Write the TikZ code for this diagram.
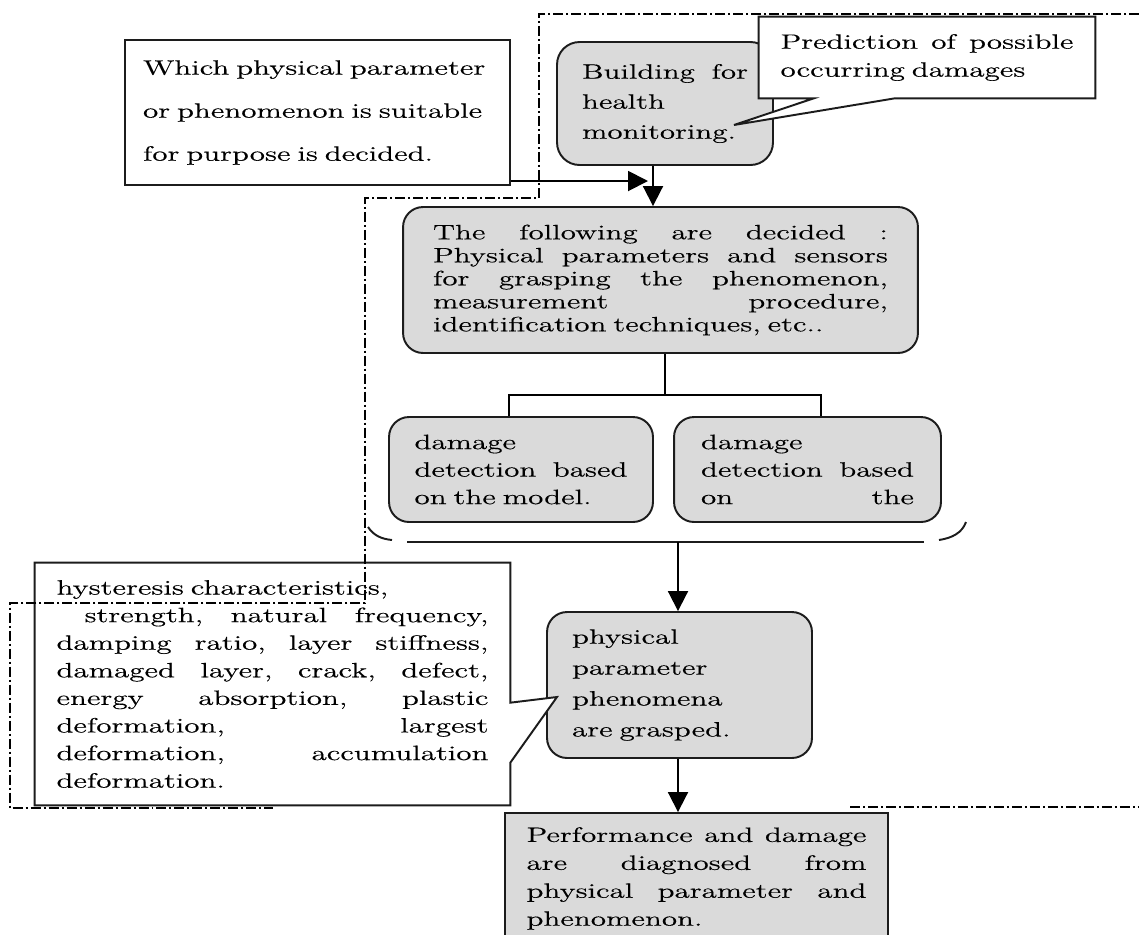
\documentclass[tikz,border=0pt]{standalone}
\usepackage{fontspec}
\newfontfamily\dfont{Latin Modern Roman}[FakeStretch=1.5,FakeBold=0.4]
\usetikzlibrary{arrows.meta,calc}
\definecolor{boxgray}{RGB}{218,218,218}
\definecolor{edge}{RGB}{28,28,28}
% one justified line of the given width; words are separated by \hfill
\newcommand\jl[2]{\makebox[#1][s]{#2}}

\begin{document}
\begin{tikzpicture}[x=0.02cm,y=-0.02cm,
  fnt/.style={font=\dfont\fontsize{11.8pt}{#1}\selectfont},
  plainbox/.style={draw=edge, line width=1.1pt, fill=white, inner sep=0pt, align=left},
  openbox/.style={fill=white, inner sep=0pt, align=left},
  roundbox/.style={draw=edge, line width=1.1pt, fill=boxgray, rounded corners=0.4cm, inner sep=0pt, align=left},
  squarebox/.style={draw=edge, line width=1.1pt, fill=boxgray, inner sep=0pt, align=left},
  outline/.style={draw=edge, line width=1.1pt},
  link/.style={draw=black, line width=1.1pt},
  arr/.style={link, -{Triangle[length=0.4cm,width=0.4cm]}},
  brk/.style={draw=edge, line width=1.1pt},
  frame/.style={draw=black, line width=0.85pt, dash pattern=on 0.2cm off 0.06cm on 0.04cm off 0.06cm},
]
\useasboundingbox (0,0) rectangle (1139,934);
\clip (0,0) rectangle (1139,934);
\fill[white] (0,0) rectangle (1139,934);

% question box, top left
\node[plainbox, fnt=24.5pt, text width=6.98cm, minimum width=7.7cm, minimum height=2.9cm]
  (which) at (317.5,112.5) {Which physical parameter\\or phenomenon is suitable\\for purpose is decided.};

% building
\node[roundbox, rounded corners=0.45cm, fnt=17.1pt, text width=3.32cm, minimum width=4.32cm, minimum height=2.46cm]
  (bld) at (665,103.5) {\jl{3.32cm}{Building\hfill for}\\health\\monitoring.};

% callout on the building
\node[openbox, fnt=15.9pt, text width=5.86cm, minimum width=6.72cm, minimum height=1.62cm]
  (pred) at (927,57.5) {\jl{5.86cm}{Prediction\hfill of\hfill possible}\\occurring damages};
\coordinate (pa) at ($(pred.south west)+(55,0)$);
\coordinate (pb) at ($(pred.south west)+(136,0)$);
\coordinate (ptip) at (734,125);
\fill[white] ($(pa)+(1,-1)$) -- (ptip) -- ($(pb)+(-1,-1)$) -- cycle;
\draw[outline] (pb) -- (pred.south east) -- (pred.north east) -- (pred.north west)
  -- (pred.south west) -- (pa) -- (ptip) -- (pb);

% decisions
\node[roundbox, fnt=13.1pt, text width=9.1cm, minimum width=10.3cm, minimum height=2.92cm]
  (mid) at (660.5,280) {\jl{9.1cm}{The\hfill following\hfill are\hfill decided\hfill :}\\
  \jl{9.1cm}{Physical\hfill parameters\hfill and\hfill sensors}\\
  \jl{9.1cm}{for\hfill grasping\hfill the\hfill phenomenon,}\\
  \jl{9.1cm}{measurement\hfill procedure,}\\
  identification techniques, etc..};

% two detection methods
\node[roundbox, fnt=15.65pt, text width=4.26cm, minimum width=5.28cm, minimum height=2.1cm]
  (lbox) at (521,469.5) {damage\\\jl{4.26cm}{detection\hfill based}\\on the model.};
\node[roundbox, fnt=15.65pt, text width=4.26cm, minimum width=5.34cm, minimum height=2.1cm]
  (rbox) at (807.5,469.5) {damage\\\jl{4.26cm}{detection\hfill based}\\\jl{4.26cm}{on\hfill the}};

% bracket under the two methods
\coordinate (bj) at (678,542);
\draw[brk] (368,527) .. controls (374,536) and (382,539) .. (392,540);
\draw[brk] (407,542) -- (924,542);
\draw[brk] (939,540) .. controls (952,538) and (962,533) .. (966,522);

% grasped parameters
\node[roundbox, fnt=17.6pt, text width=4.3cm, minimum width=5.3cm, minimum height=2.92cm]
  (phys) at (679.5,685) {physical\\parameter\\phenomena\\are grasped.};

% list of parameters, callout onto the grasp box
\node[openbox, fnt=15.7pt, text width=8.64cm, minimum width=9.5cm, minimum height=4.84cm]
  (hys) at (272.5,684) {hysteresis characteristics,\\
  \jl{8.64cm}{\hspace*{0.56cm}strength,\hfill natural\hfill frequency,}\\
  \jl{8.64cm}{damping\hfill ratio,\hfill layer\hfill stiffness,}\\
  \jl{8.64cm}{damaged\hfill layer,\hfill crack,\hfill defect,}\\
  \jl{8.64cm}{energy\hfill absorption,\hfill plastic}\\
  \jl{8.64cm}{deformation,\hfill largest}\\
  \jl{8.64cm}{deformation,\hfill accumulation}\\
  deformation.};
\coordinate (ha) at ($(hys.north east)+(0,140)$);
\coordinate (hb) at ($(hys.north east)+(0,200)$);
\coordinate (htip) at (557,697);
\fill[white] ($(ha)+(-1,1)$) -- (htip) -- ($(hb)+(-1,-1)$) -- cycle;
\draw[outline] (ha) -- (htip) -- (hb) -- (hys.south east) -- (hys.south west)
  -- (hys.north west) -- (hys.north east) -- cycle;

% diagnosis
\node[squarebox, fnt=15.9pt, text width=6.8cm, minimum width=7.66cm, minimum height=2.62cm]
  (perf) at (696.5,878.5) {\jl{6.8cm}{Performance\hfill and\hfill damage}\\
  \jl{6.8cm}{are\hfill diagnosed\hfill from}\\
  \jl{6.8cm}{physical\hfill parameter\hfill and}\\
  phenomenon.};

% connectors
\coordinate (join) at (648,181);
\coordinate (vx) at (653,0);
\coordinate (sm) at (665,395);
\coordinate (sl) at (509,395);
\coordinate (sr) at (821,395);
\draw[arr] (which.east |- join) -- (join);
\draw[arr] (bld.south -| vx) -- (mid.north -| vx);
\draw[link] (mid.south -| sm) -- (sm);
\draw[link] (lbox.north -| sl) -- (sl) -- (sr) -- (rbox.north -| sr);
\draw[arr] (bj) -- (phys.north -| bj);
\draw[arr] (phys.south -| bj) -- (perf.north -| bj);

% dash-dot frame
\draw[frame] (1139,14) -- (539,14) -- (539,198) -- (365,198) -- (365,603)
  -- (10,603) -- (10,808) -- (273,808);
\draw[frame] (850,807) -- (1139,807);
\end{tikzpicture}
\end{document}
